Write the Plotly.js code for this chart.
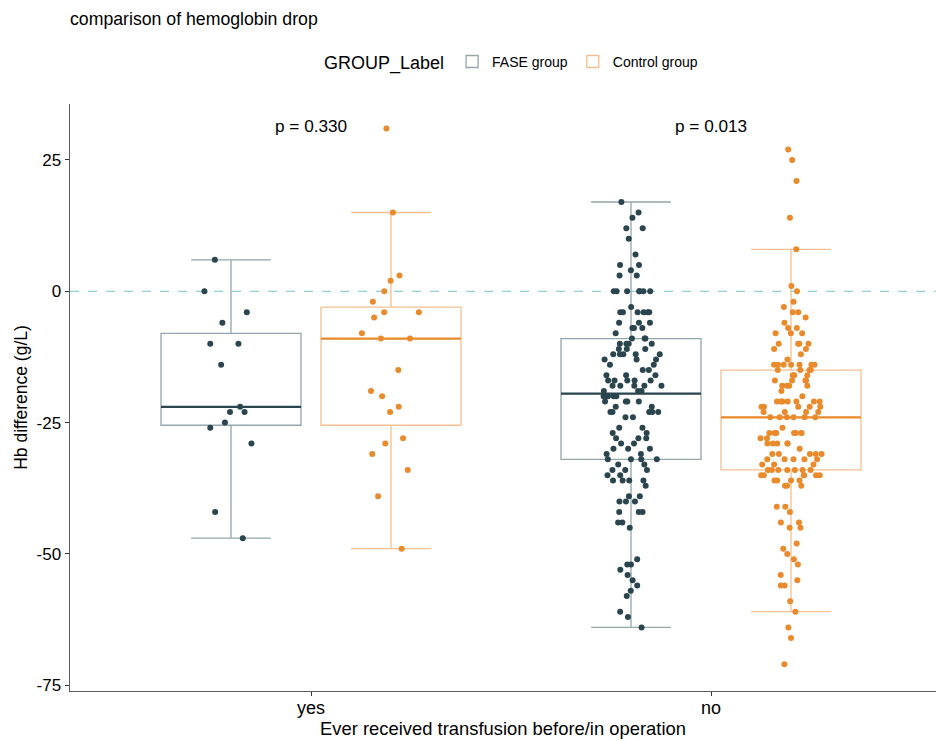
<!DOCTYPE html>
<html><head><meta charset="utf-8">
<script src="https://cdn.plot.ly/plotly-3.0.1.min.js"></script>
<style>body{margin:0;background:#fff}#chart{width:936px;height:741px}</style>
</head><body><div id="chart"></div>
<script>
const categories = ['yes', 'no'];
const groups = ['FASE group', 'Control group'];
const pValues = ['p = 0.330', 'p = 0.013'];
const yTickVals = [-75, -50, -25, 0, 25];
const yTickText = ['-75', '-50', '-25', '0', '25'];

const faseYes = [6, 0, -4, -6, -10, -10, -14, -22, -23, -23, -25, -26, -29, -42, -47];
const controlYes = [31, 15, 3, 2, 0, -2, -4, -4, -5, -8, -9, -9, -15, -19, -20, -22, -23, -28, -29, -31, -34, -39, -49];

const faseNo = [17, 15, 14, 12, 12, 10, 7, 5, 5, 4, 3, 3, 0, 0, 0, 0, 0, 0, 0, -3, -4, -4, -4, -4, -4, -4, -6, -6, -6, -7, -7, -7, -8,
  -9, -9, -9, -10, -10, -10, -10, -11, -11, -11, -12, -12, -12, -12, -12, -13, -13, -13, -14, -14, -15, -15, -16, -16, -16,
  -17, -17, -17, -17, -17, -18, -18, -18, -18, -18, -19, -19, -19,
  -20, -20, -20, -20, -20, -21, -21, -21, -21, -22, -22, -23, -23, -23, -23, -23, -24, -24, -26, -26, -27, -27,
  -28, -28, -28, -29, -29, -30, -30, -30, -31, -31, -32, -32, -32, -32,
  -33, -33, -34, -34, -34, -35, -35, -36, -36, -36, -36, -37, -39, -39, -40, -40, -40, -42, -42, -42, -44, -44, -45,
  -51, -52, -52, -53, -54, -55, -56, -57, -58, -61, -62, -64];

const controlNo = [27, 25, 21, 14, 8, 1, 0, -2, -3, -4, -4, -5, -6, -7, -7, -8, -8, -8, -10, -10, -10, -10, -11, -11, -12, -13,
  -14, -14, -14, -14, -14, -14, -14,
  -15, -15, -15, -15,
  -16, -16, -16, -17, -17, -17, -17, -18, -18, -18, -18, -19, -20, -21, -21, -21, -21, -21, -21, -21,
  -22, -22, -22, -22, -22, -23, -23, -23, -23,
  -24, -24, -24, -24, -24, -24,
  -26, -27, -27, -27, -27, -27, -27, -27, -28, -28, -29, -29, -29, -29, -29, -30, -31, -31, -31, -31, -31,
  -32, -32, -32, -32, -32, -33, -33, -33,
  -34, -34, -34, -34, -34, -34, -34,
  -35, -35, -35, -35, -35, -35, -36, -36, -36, -36, -37, -37, -37, -41, -41, -42, -44, -44, -45, -45,
  -48, -49, -50, -51, -52, -54, -55, -56, -56, -59, -61, -64, -66, -71];

const seriesData = [[faseYes, faseNo], [controlYes, controlNo]];
const pointColors = ['#2b454e', '#e98a2c'];
const boxColors = ['#93a6ab', '#f4bf8f'];
const medianColors = ['#2b454e', '#e98a2c'];
const offsets = [-0.2, 0.2];
const boxWidth = 0.35;

function median(arr) {
  const s = arr.slice().sort((a, b) => a - b);
  const h = (s.length - 1) * 0.5;
  const lo = Math.floor(h);
  return s[lo] + (h - lo) * ((s[lo + 1] !== undefined ? s[lo + 1] : s[lo]) - s[lo]);
}

const traces = [];
groups.forEach((g, gi) => {
  const xs = [], ys = [];
  categories.forEach((c, ci) => {
    seriesData[gi][ci].forEach(v => { xs.push(ci + 1 + offsets[gi]); ys.push(v); });
  });
  traces.push({
    type: 'box', name: g, x: xs, y: ys,
    boxpoints: 'all', jitter: 0.45, pointpos: 0,
    width: boxWidth, whiskerwidth: 0.57,
    quartilemethod: 'inclusive',
    fillcolor: 'rgba(255,255,255,0)',
    line: {color: boxColors[gi], width: 1.3},
    marker: {color: pointColors[gi], size: 6, line: {width: 0}},
    hoverinfo: 'y'
  });
});
groups.forEach((g, gi) => {
  const mx = [], my = [];
  categories.forEach((c, ci) => {
    const p = ci + 1 + offsets[gi];
    const m = median(seriesData[gi][ci]);
    mx.push(p - boxWidth / 2, p + boxWidth / 2, null);
    my.push(m, m, null);
  });
  traces.push({type: 'scatter', mode: 'lines', x: mx, y: my, showlegend: false,
    line: {color: medianColors[gi], width: 2.2}, hoverinfo: 'skip'});
});

const font = 'Liberation Sans, Arial, sans-serif';
const layout = {
  width: 936, height: 741,
  margin: {l: 70, r: 0, t: 104, b: 50},
  paper_bgcolor: '#fff', plot_bgcolor: '#fff',
  font: {family: font, color: '#000'},
  boxmode: 'overlay',
  title: {text: 'comparison of hemoglobin drop', x: 70 / 936, xanchor: 'left', xref: 'container',
    y: 1 - 19 / 741, yanchor: 'middle', yref: 'container', font: {size: 17.7, color: '#000'}},
  legend: {orientation: 'h', x: 0.511, xanchor: 'center', y: 1.07, yanchor: 'middle',
    title: {text: 'GROUP_Label', font: {size: 18}}, font: {size: 14}},
  xaxis: {range: [0.3975, 2.5625], tickvals: [1, 2], ticktext: categories,
    showline: true, linecolor: '#5e5e5e', linewidth: 1.4, ticks: 'outside', ticklen: 4, tickcolor: '#333',
    ticklabelstandoff: -4,
    tickfont: {size: 18, color: '#000'}, showgrid: false, zeroline: false,
    title: {text: 'Ever received transfusion before/in operation', font: {size: 18.4}, standoff: 4}},
  yaxis: {range: [-76.1, 35.66], tickvals: yTickVals, ticktext: yTickText,
    showline: true, linecolor: '#5e5e5e', linewidth: 1.4, ticks: 'outside', ticklen: 4, tickcolor: '#333',
    tickfont: {size: 17, color: '#000'}, showgrid: false, zeroline: false,
    title: {text: 'Hb difference (g/L)', font: {size: 17.5}, standoff: 4}},
  shapes: [{type: 'line', xref: 'paper', x0: 0, x1: 1, yref: 'y', y0: 0, y1: 0,
    line: {color: '#8fd0da', width: 1.2, dash: 'dash'}, layer: 'below'}],
  annotations: categories.map((c, ci) => ({x: ci + 1, y: 31.5, xref: 'x', yref: 'y', text: pValues[ci],
    showarrow: false, font: {size: 17.2, color: '#000'}}))
};

Plotly.newPlot('chart', traces, layout, {displayModeBar: false, staticPlot: true});
</script>
</body></html>
